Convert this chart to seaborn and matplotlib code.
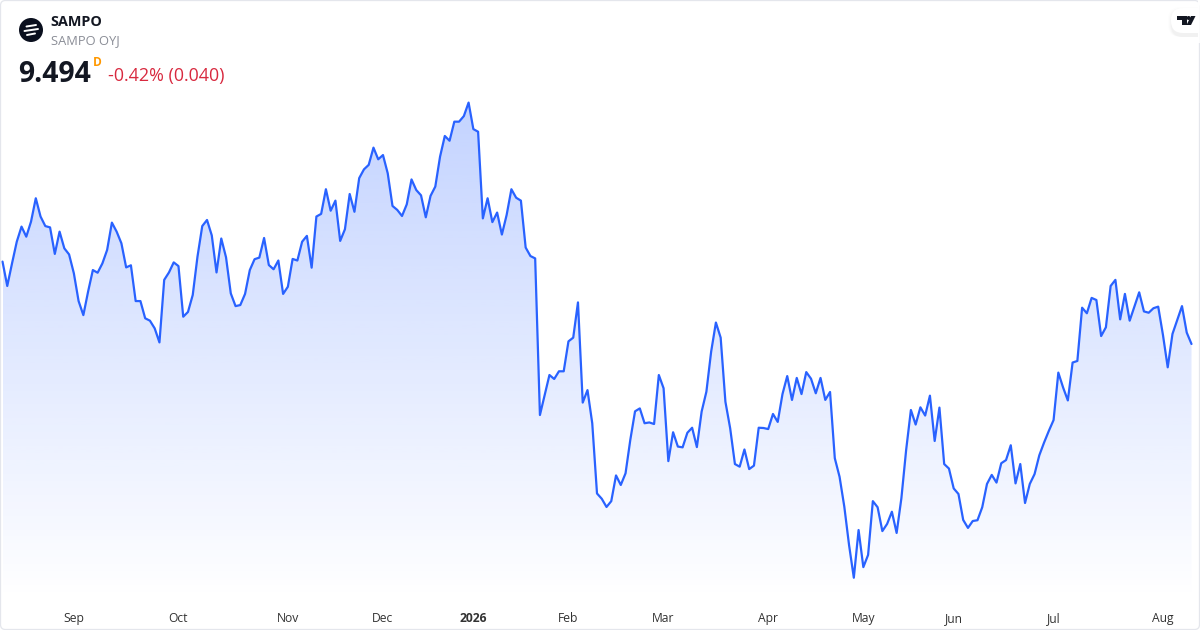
import numpy as np
import pandas as pd
import matplotlib
matplotlib.use("Agg")
import matplotlib.pyplot as plt
from matplotlib.patches import Circle, FancyBboxPatch, Polygon
import seaborn as sns

symbol = "SAMPO"
company = "SAMPO OYJ"
last_price = "9.494"
interval = "D"
change_text = "-0.42% (0.040)"

close_aug_oct = [9.805, 9.713, 9.798, 9.880, 9.937, 9.899, 9.956, 10.044, 9.975, 9.939, 9.934, 9.834,
    9.918, 9.855, 9.832, 9.761, 9.656, 9.603, 9.692, 9.773, 9.763, 9.798, 9.849, 9.952, 9.918, 9.874,
    9.783, 9.791, 9.656, 9.656, 9.591, 9.582, 9.553, 9.500, 9.736, 9.764, 9.802, 9.788, 9.597, 9.615,
    9.679, 9.824, 9.939, 9.962, 9.904, 9.764, 9.892, 9.821, 9.685, 9.637, 9.641, 9.683, 9.773, 9.814,
    9.820, 9.894, 9.792, 9.776, 9.809]
close_nov_jan = [9.683, 9.710, 9.815, 9.809, 9.880, 9.902, 9.782, 9.975, 9.985, 10.078, 9.997, 10.035,
    9.883, 9.927, 10.060, 9.993, 10.120, 10.153, 10.170, 10.235, 10.191, 10.207, 10.138, 10.015, 10.000,
    9.977, 10.021, 10.115, 10.075, 10.055, 9.972, 10.053, 10.088, 10.201, 10.279, 10.261, 10.333, 10.333,
    10.354, 10.405, 10.305, 10.295, 9.968, 10.044, 9.954, 9.990, 9.907, 9.981, 10.078, 10.046, 10.035,
    9.858, 9.826, 9.817, 9.226, 9.302, 9.377, 9.362, 9.391, 9.391, 9.504, 9.518, 9.651]
close_feb_apr = [9.273, 9.320, 9.195, 8.930, 8.910, 8.879, 8.901, 8.998, 8.962, 9.006, 9.132, 9.240,
    9.251, 9.195, 9.198, 9.192, 9.377, 9.327, 9.052, 9.161, 9.107, 9.104, 9.159, 9.178, 9.105, 9.239,
    9.314, 9.465, 9.575, 9.518, 9.276, 9.176, 9.041, 9.031, 9.096, 9.022, 9.035, 9.178, 9.177, 9.173,
    9.230, 9.200, 9.305, 9.373, 9.283, 9.366, 9.305, 9.388, 9.363, 9.308, 9.366, 9.283, 9.313]
close_apr_jul = [9.063, 8.993, 8.880, 8.735, 8.612, 8.792, 8.652, 8.698, 8.901, 8.878, 8.788, 8.815,
    8.861, 8.781, 8.912, 9.094, 9.245, 9.190, 9.255, 9.224, 9.299, 9.128, 9.254, 9.041, 9.024, 8.949,
    8.928, 8.830, 8.800, 8.826, 8.829, 8.878, 8.966, 9.000, 8.971, 9.044, 9.056, 9.112, 8.968, 9.041,
    8.894, 8.966, 9.003, 9.074, 9.122, 9.166, 9.207]
close_jul_aug = [9.386, 9.330, 9.281, 9.424, 9.430, 9.631, 9.610, 9.668, 9.660, 9.524, 9.557, 9.713,
    9.736, 9.587, 9.683, 9.582, 9.635, 9.689, 9.617, 9.612, 9.629, 9.635, 9.528, 9.406, 9.532, 9.585,
    9.637, 9.537, 9.494]

month_labels = ["Sep", "Oct", "Nov", "Dec", "2026", "Feb", "Mar", "Apr", "May", "Jun", "Jul", "Aug"]
month_bars = [15, 37, 60, 80, 99, 119, 139, 161, 181, 200, 221, 244]

prices = close_aug_oct + close_nov_jan + close_feb_apr + close_apr_jul + close_jul_aug
df = pd.DataFrame({"bar": np.arange(len(prices)), "close": prices})

W, H = 1200, 630
LINE = "#2962FF"
sns.set_theme(style="white")
plt.rcParams["font.family"] = ["Open Sans", "DejaVu Sans"]

fig = plt.figure(figsize=(W / 100, H / 100), dpi=100, facecolor="white")
ax = fig.add_axes([0, 0, 1, 1])
step = (1191.5 - 2.5) / (len(prices) - 1)
xlim = (-2.5 / step, (W - 2.5) / step)
ylim = (9.494 + (344 - H) / 265, 9.494 + 344 / 265)
fill_floor = 9.494 + (344 - 600) / 265

# gradient area under the line, fading out just above the time axis
top_y = max(prices)
base = np.array(matplotlib.colors.to_rgb(LINE))
rgba = np.zeros((256, 1, 4))
rgba[..., :3] = base
rgba[..., 3] = np.linspace(0.28, 0.0, 256)[:, None]
im = ax.imshow(rgba, extent=[df.bar.iloc[0], df.bar.iloc[-1], fill_floor, top_y], origin="upper",
               aspect="auto", interpolation="bilinear", zorder=1)
verts = list(zip(df.bar, df.close)) + [(df.bar.iloc[-1], fill_floor), (df.bar.iloc[0], fill_floor)]
clip = Polygon(verts, closed=True, transform=ax.transData, facecolor="none", edgecolor="none")
ax.add_patch(clip)
im.set_clip_path(clip)

sns.lineplot(data=df, x="bar", y="close", ax=ax, color=LINE, linewidth=1.6, zorder=3,
             solid_joinstyle="round", errorbar=None)
ax.set_xlim(*xlim)
ax.set_ylim(*ylim)
ax.set_xlabel("")
ax.set_ylabel("")
for s in ax.spines.values():
    s.set_visible(False)
ax.set_yticks([])
ax.set_xticks(month_bars)
ax.set_xticklabels(month_labels)
ax.tick_params(axis="x", length=0, direction="in", pad=-5.8, labelsize=8.7, labelcolor="#333333")
for lab in ax.get_xticklabels():
    lab.set_zorder(6)
    lab.set_verticalalignment("baseline")
    if lab.get_text() == "2026":
        lab.set_fontweight("bold")

# chrome overlay in pixel space
ov = fig.add_axes([0, 0, 1, 1], facecolor="none")
ov.set_xlim(0, W)
ov.set_ylim(H, 0)
ov.axis("off")
ov.add_patch(FancyBboxPatch((0.5, 0.5), W - 1, H - 1, boxstyle="round,pad=0,rounding_size=5",
                            facecolor="none", edgecolor="#E4E6EC", linewidth=0.9))

# symbol logo
ov.add_patch(Circle((31, 30), 12, facecolor="#0A0F1E", edgecolor="none"))
for (a, b, c, d) in [(26.5, 26.5, 36, 25), (24.5, 31, 38, 29), (27, 35, 35, 33.5)]:
    ov.plot([a, c], [b, d], color="white", lw=1.4, solid_capstyle="round", zorder=5)

ov.text(50.8, 22, symbol, fontsize=10.4, fontweight="bold", color="#131722", va="center", ha="left")
ov.text(50.8, 41, company, fontsize=9.3, color="#8A8D96", va="center", ha="left")
ov.text(18.5, 74, last_price, fontsize=20.3, fontweight="bold", color="#131722", va="center", ha="left")
ov.text(93, 62.5, interval, fontsize=8.6, fontweight="bold", color="#FF9800", va="center", ha="left")
ov.text(108, 76, change_text, fontsize=12.9, color="#D8293F", va="center", ha="left")

# TradingView badge
for i, a in enumerate([0.008, 0.012, 0.016, 0.02]):
    ov.add_patch(FancyBboxPatch((1168 + i, 7 + i), 50, 30 - i, boxstyle="round,pad=0,rounding_size=12",
                                facecolor="#000000", edgecolor="none", alpha=a, zorder=7))
ov.add_patch(FancyBboxPatch((1171, 8), 50, 25, boxstyle="round,pad=0,rounding_size=12",
                            facecolor="white", edgecolor="none", zorder=8))
ov.add_patch(Polygon([(1177, 16), (1186.5, 16), (1186.5, 25), (1182, 25), (1182, 20), (1177, 20)],
                     closed=True, facecolor="#131722", edgecolor="none", zorder=9))
ov.add_patch(Circle((1188.6, 18), 2.0, facecolor="#131722", edgecolor="none", zorder=9))
ov.add_patch(Polygon([(1191, 16), (1195.5, 16), (1191, 25), (1186.5, 25)],
                     closed=True, facecolor="#131722", edgecolor="none", zorder=9))
# card edge above the badge shadow
ov.add_patch(FancyBboxPatch((1197.5, -2), 5, 45, boxstyle="square,pad=0", facecolor="white", edgecolor="none", zorder=8))
ov.plot([1199.5, 1199.5], [5, 45], color="#E4E6EC", lw=0.9, zorder=9)

fig.savefig("out.png", dpi=100, facecolor="white")
